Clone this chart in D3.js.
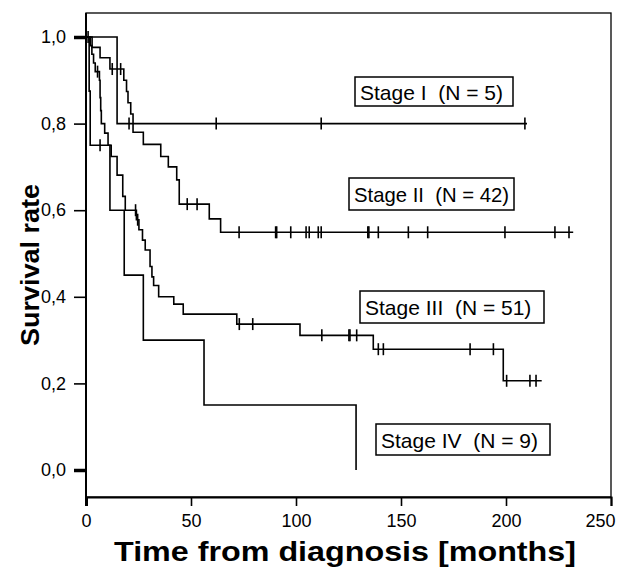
<!DOCTYPE html>
<html>
<head>
<meta charset="utf-8">
<script src="https://cdn.jsdelivr.net/npm/d3@7"></script>
<style>
  html, body { margin: 0; padding: 0; background: #fff; }
  svg { display: block; font-family: Arial, "Liberation Sans", sans-serif; }
  .legend text { white-space: pre; }
</style>
</head>
<body>
<svg id="chart" width="625" height="567"></svg>
<script>
// ----- Data (Kaplan-Meier, months / survival) -----
const stageLabels = ["Stage I  (N = 5)", "Stage II  (N = 42)", "Stage III  (N = 51)", "Stage IV  (N = 9)"];

// [time, survival after the drop]
const stage1Events = [[14.8, 0.8]];
const stage1Censored = [20.5, 62, 112, 209];
const stage1End = 210;

const stage2Events = [
    [2.9, 0.976], [6.7, 0.952], [11.4, 0.926], [18, 0.9], [19.3, 0.874], [20, 0.848],
    [21.3, 0.822], [22.4, 0.78], [27.3, 0.752], [35.6, 0.724], [39.2, 0.7], [43.2, 0.67],
    [44.4, 0.614], [58.7, 0.58], [64.1, 0.549]
];
const stage2Censored = [12.5, 16.5, 48.2, 52.9, 72.9, 90.3, 90.8, 97.5, 104.8, 106.3, 110.6, 112,
    134.2, 134.7, 139.2, 153.5, 162.7, 199.5, 223.3, 230];
const stage2End = 232;

const stage3Events = [
    [2.0, 0.98], [2.8, 0.96], [3.6, 0.94], [4.4, 0.92], [6.4, 0.9], [6.7, 0.86], [7.0, 0.83],
    [7.3, 0.8], [8.9, 0.778], [10.5, 0.75], [12.0, 0.724], [14.8, 0.681], [17.5, 0.632],
    [18.7, 0.6], [24.0, 0.578], [25.2, 0.555], [26.9, 0.531], [28.2, 0.508], [30.5, 0.47],
    [31.4, 0.446], [32.2, 0.426], [34.6, 0.4], [41.8, 0.383], [46.3, 0.36], [71.8, 0.337],
    [101.9, 0.311], [136.8, 0.279], [198.7, 0.206]
];
const stage3Censored = [5.5, 23.6, 24.6, 73, 79.4, 112.3, 125.2, 125.7, 128.9, 139.2, 141.6,
    182.9, 194, 200.3, 211.4, 214.3];
const stage3End = 217;

const stage4Events = [[1.5, 0.875], [2.0, 0.75], [11.4, 0.6], [18.2, 0.45], [27.3, 0.3], [56.2, 0.15], [128.6, 0.0]];
const stage4Censored = [1.0, 6.7];
const stage4End = 128.6;

const xTicks = [0, 50, 100, 150, 200, 250];
const yTicks = [0, 0.2, 0.4, 0.6, 0.8, 1.0];

// ----- Layout -----
const svg = d3.select("#chart");
const frame = { left: 86, right: 611, top: 13, bottom: 497 };

const x = d3.scaleLinear().domain([0, 250]).range([frame.left, frame.right]);
const y = d3.scaleLinear().domain([0, 1]).range([470, 37]);

const curves = [
    { events: stage1Events, censored: stage1Censored, end: stage1End },
    { events: stage2Events, censored: stage2Censored, end: stage2End },
    { events: stage3Events, censored: stage3Censored, end: stage3End },
    { events: stage4Events, censored: stage4Censored, end: stage4End }
];

// frame
svg.append("rect")
    .attr("x", frame.left).attr("y", frame.top)
    .attr("width", frame.right - frame.left).attr("height", frame.bottom - frame.top)
    .attr("fill", "none").attr("stroke", "#000").attr("stroke-width", 1.3);

// axes
const xAxis = svg.append("g")
    .attr("transform", `translate(0,${frame.bottom})`)
    .call(d3.axisBottom(x).tickValues(xTicks).tickSize(9).tickPadding(8));
const yAxis = svg.append("g")
    .attr("transform", `translate(${frame.left},0)`)
    .call(d3.axisLeft(y).tickValues(yTicks).tickSize(12).tickPadding(8)
        .tickFormat((d) => d3.format(".1f")(d).replace(".", ",")));

[xAxis, yAxis].forEach((a) => {
    a.select(".domain").attr("stroke-width", 2);
    a.selectAll(".tick line").attr("stroke-width", 1.6);
    a.selectAll(".tick text").attr("font-size", 18).attr("font-family", "Arial, 'Liberation Sans'").attr("fill", "#000");
});
yAxis.select(".domain").attr("d", `M0,${frame.top}V${frame.bottom}`);
yAxis.selectAll(".tick line").attr("stroke-width", (d) => (d === 0 || d === 1 ? 3.5 : 1.6));
xAxis.selectAll(".tick line").attr("stroke-width", (d) => (d === 0 ? 3 : 1.6));
// last label sits inside the page, like the reference
xAxis.selectAll(".tick text").filter((d) => d === 250).attr("dx", -11);

// KM step curves
const line = d3.line().x((d) => x(d[0])).y((d) => y(d[1])).curve(d3.curveStepAfter);

const survAt = (events, t) => {
    let s = 1;
    for (const [et, es] of events) if (et <= t) s = es;
    return s;
};

const plot = svg.append("g");
curves.forEach((c) => {
    const last = c.events[c.events.length - 1][1];
    const pts = [[0, 1], ...c.events, [c.end, last]];
    plot.append("path")
        .attr("d", line(pts))
        .attr("fill", "none")
        .attr("stroke", "#000")
        .attr("stroke-width", 1.6);

    plot.append("g")
        .selectAll("line")
        .data(c.censored)
        .join("line")
        .attr("x1", (t) => x(t)).attr("x2", (t) => x(t))
        .attr("y1", (t) => y(survAt(c.events, t)) - 6)
        .attr("y2", (t) => y(survAt(c.events, t)) + 6)
        .attr("stroke", "#000")
        .attr("stroke-width", 1.6);
});

// legend boxes: [left, top, width, height]
const boxPos = [[355, 77, 158, 29], [349, 178, 165, 32], [360, 291, 184, 32], [376, 424, 174, 31]];
const legend = svg.append("g").attr("class", "legend");
stageLabels.forEach((lab, i) => {
    const [bx, by, bw, bh] = boxPos[i];
    const g = legend.append("g");
    g.append("rect")
        .attr("x", bx).attr("y", by).attr("width", bw).attr("height", bh)
        .attr("fill", "#fff").attr("stroke", "#000").attr("stroke-width", 1.5);
    const txt = g.append("text")
        .attr("x", bx + 5).attr("y", by + bh / 2 + 8)
        .attr("font-size", 21)
        .attr("fill", "#000")
        .text(lab);
    const w = txt.node().getComputedTextLength();
    if (w > bw - 10) txt.attr("textLength", bw - 10).attr("lengthAdjust", "spacingAndGlyphs");
});

// axis titles
svg.append("text")
    .attr("transform", `translate(39,265) rotate(-90)`)
    .attr("text-anchor", "middle")
    .attr("font-size", 26).attr("font-weight", "bold")
    .attr("textLength", 162).attr("lengthAdjust", "spacingAndGlyphs")
    .text("Survival rate");

svg.append("text")
    .attr("x", 345).attr("y", 561)
    .attr("text-anchor", "middle")
    .attr("font-size", 27).attr("font-weight", "bold")
    .attr("textLength", 462).attr("lengthAdjust", "spacingAndGlyphs")
    .text("Time from diagnosis [months]");
</script>
</body>
</html>
